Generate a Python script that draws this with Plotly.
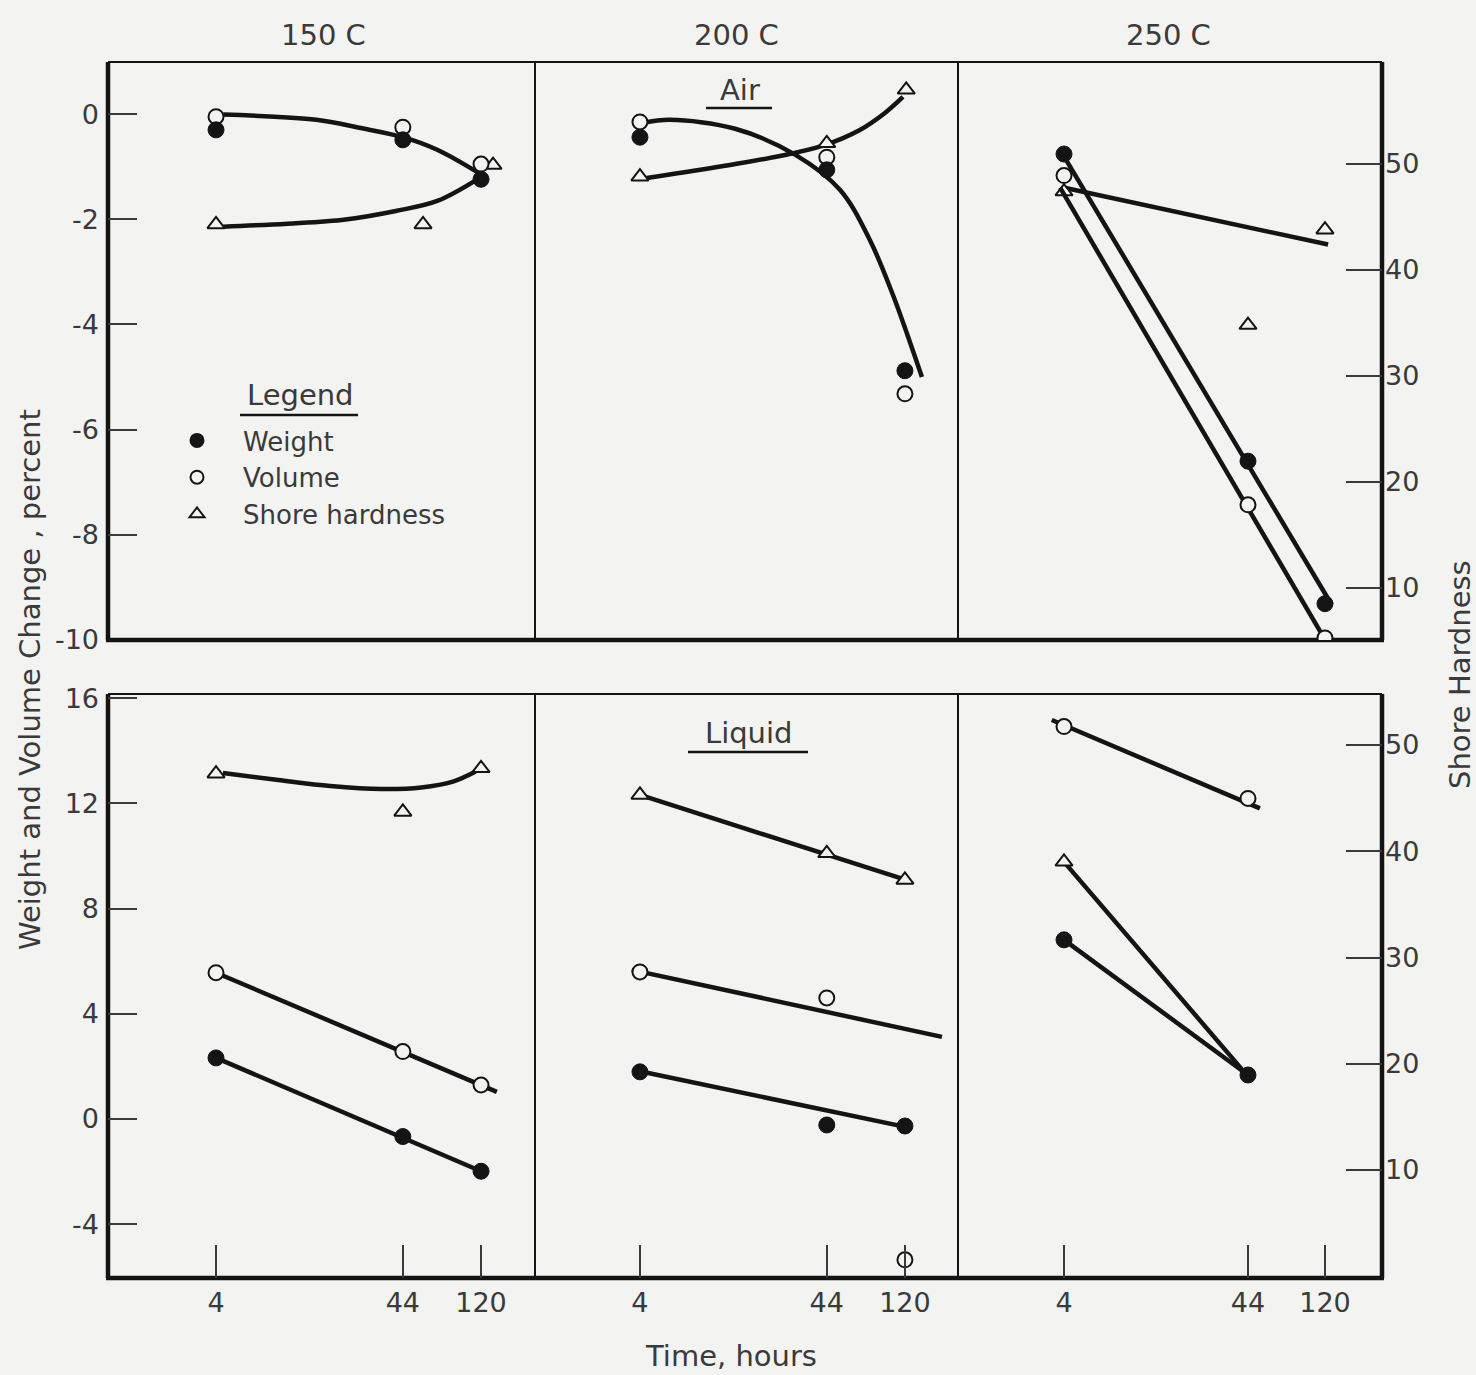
import plotly.graph_objects as go

W, H = 1476, 1375
def px(x): return x / W
def py(y): return 1 - y / H

# ---------------- data ----------------
TIMES = [4, 44, 120]
X_TICKS = [4, 44, 120]
X_TICK_TEXT = ["4", "44", "120"]
TEMPS = ["150 C", "200 C", "250 C"]

PCT_TICKS_AIR = [0, -2, -4, -6, -8, -10]
PCT_TICKS_LIQ = [16, 12, 8, 4, 0, -4]
SHORE_TICKS = [10, 20, 30, 40, 50]

# --- Air, 150 C
air150_weight = [-0.30, -0.49, -1.24]
air150_volume = [-0.05, -0.25, -0.95]
air150_shore_t = [4, 57, 140]
air150_shore = [44.3, 44.3, 49.9]
air150_wv_fit_t = [4.39, 14.5, 25.1, 44.0, 68.4, 115]
air150_wv_fit = [-0.01, -0.11, -0.26, -0.44, -0.68, -1.11]
air150_sh_fit_t = [4.39, 10.0, 21.1, 40.2, 68.4, 115]
air150_sh_fit = [44.08, 44.37, 44.77, 45.57, 46.51, 48.57]

# --- Air, 200 C
air200_weight = [-0.44, -1.06, -4.88]
air200_volume = [-0.15, -0.82, -5.32]
air200_shore_t = [4, 44, 122]
air200_shore = [48.8, 51.95, 57.0]
air200_wv_fit_t = [4.16, 5.88, 13.57, 29.6, 52.1, 76.6, 102.9, 129.6, 149.2]
air200_wv_fit = [-0.17, -0.11, -0.28, -0.78, -1.44, -2.40, -3.44, -4.39, -5.0]
air200_sh_fit_t = [4.37, 12.7, 24.1, 41.4, 67.3, 92.8, 117]
air200_sh_fit = [48.68, 49.91, 50.75, 51.70, 53.21, 54.81, 56.32]

# --- Air, 250 C
air250_weight = [-0.76, -6.6, -9.31]
air250_volume = [-1.17, -7.43, -9.96]
air250_shore = [47.4, 34.8, 43.8]
air250_w_fit_t = [3.8, 131]
air250_w_fit = [-0.68, -9.33]
air250_v_fit_t = [3.8, 118]
air250_v_fit = [-1.4, -9.95]
air250_sh_fit_t = [3.9, 125]
air250_sh_fit = [47.8, 42.4]

# --- Liquid, 150 C
liq150_weight = [2.32, -0.67, -1.99]
liq150_volume = [5.56, 2.56, 1.29]
liq150_shore = [47.3, 43.7, 47.8]
liq150_w_fit_t = [4, 120]
liq150_w_fit = [2.32, -1.99]
liq150_v_fit_t = [4, 147]
liq150_v_fit = [5.56, 1.03]
liq150_sh_fit_t = [4.37, 8.9, 17.3, 33.4, 55.8, 83.6, 112]
liq150_sh_fit = [47.36, 46.71, 46.15, 45.86, 46.0, 46.55, 47.5]

# --- Liquid, 200 C
liq200_weight = [1.79, -0.23, -0.27]
liq200_volume = [5.59, 4.6, -5.36]
liq200_shore = [45.3, 39.8, 37.3]
liq200_w_fit_t = [3.7, 128]
liq200_w_fit = [1.86, -0.34]
liq200_v_fit_t = [3.6, 193]
liq200_v_fit = [5.67, 3.12]
liq200_sh_fit_t = [4, 121.6]
liq200_sh_fit = [45.3, 37.3]

# --- Liquid, 250 C (no 120 h data; 44 h hardness symbol hidden under weight dot)
liq250_t = [4, 44]
liq250_weight = [6.81, 1.67]
liq250_volume = [14.92, 12.19]
liq250_shore_t = [4]
liq250_shore = [39.0]
liq250_w_fit_t = [4, 44]
liq250_w_fit = [6.81, 1.67]
liq250_v_fit_t = [3.41, 51.4]
liq250_v_fit = [15.17, 11.81]
liq250_sh_fit_t = [4, 43]
liq250_sh_fit = [39.0, 19.0]

panels = [
    # row 0 (Air)
    dict(w=(TIMES, air150_weight), v=(TIMES, air150_volume), s=(air150_shore_t, air150_shore),
         wfit=[(air150_wv_fit_t, air150_wv_fit, "spline")],
         sfit=[(air150_sh_fit_t, air150_sh_fit, "spline")]),
    dict(w=(TIMES, air200_weight), v=(TIMES, air200_volume), s=(air200_shore_t, air200_shore),
         wfit=[(air200_wv_fit_t, air200_wv_fit, "spline")],
         sfit=[(air200_sh_fit_t, air200_sh_fit, "spline")]),
    dict(w=(TIMES, air250_weight), v=(TIMES, air250_volume), s=(TIMES, air250_shore),
         wfit=[(air250_w_fit_t, air250_w_fit, "linear"), (air250_v_fit_t, air250_v_fit, "linear")],
         sfit=[(air250_sh_fit_t, air250_sh_fit, "linear")]),
    # row 1 (Liquid)
    dict(w=(TIMES, liq150_weight), v=(TIMES, liq150_volume), s=(TIMES, liq150_shore),
         wfit=[(liq150_w_fit_t, liq150_w_fit, "linear"), (liq150_v_fit_t, liq150_v_fit, "linear")],
         sfit=[(liq150_sh_fit_t, liq150_sh_fit, "spline")]),
    dict(w=(TIMES, liq200_weight), v=(TIMES, liq200_volume), s=(TIMES, liq200_shore),
         wfit=[(liq200_w_fit_t, liq200_w_fit, "linear"), (liq200_v_fit_t, liq200_v_fit, "linear")],
         sfit=[(liq200_sh_fit_t, liq200_sh_fit, "linear")]),
    dict(w=(liq250_t, liq250_weight), v=(liq250_t, liq250_volume), s=(liq250_shore_t, liq250_shore),
         wfit=[(liq250_w_fit_t, liq250_w_fit, "linear"), (liq250_v_fit_t, liq250_v_fit, "linear")],
         sfit=[(liq250_sh_fit_t, liq250_sh_fit, "linear")]),
]

# ---------------- layout geometry ----------------
BG = "#f3f3f1"
INK = "#141414"
TXT = "#3a3a3a"
FONT = "DejaVu Sans"
FS_TICK = 27
FS_TXT = 29
FS_LEG = 26

COLS_PX = [(108, 535), (535, 958), (958, 1382)]
ROWS_PX = [(62, 640), (694, 1278)]
X_RANGES = [[0.0, 2.380], [0.017, 2.375], [0.002, 2.402]]
PCT_RANGES = [[-10, 0.99], [-6.05, 16.16]]
SHORE_RANGES = [[5.09, 59.62], [-0.165, 54.8]]

def hy(v):
    return str(v).replace("\u2212", "-")

fig = go.Figure()
layout = dict(
    width=W, height=H, margin=dict(l=0, r=0, t=0, b=0, autoexpand=False),
    paper_bgcolor=BG, plot_bgcolor="rgba(0,0,0,0)",
    font=dict(family=FONT, size=FS_TICK, color=TXT),
    showlegend=True,
)

MK = 15
for p, pan in enumerate(panels):
    r, c = divmod(p, 3)
    xa = f"x{p+1}"
    ya_sh = f"y{p+1}"      # base axis: shore hardness (right)
    ya_pc = f"y{p+7}"      # overlay axis: percent change (left)
    x0, x1 = COLS_PX[c]
    y0, y1 = ROWS_PX[r]
    pct_ticks = PCT_TICKS_AIR if r == 0 else PCT_TICKS_LIQ
    layout[f"xaxis{p+1}"] = dict(
        domain=[px(x0), px(x1)], anchor=ya_sh, type="log", range=X_RANGES[c],
        tickvals=X_TICKS, ticktext=X_TICK_TEXT, showticklabels=(r == 1),
        ticks="inside" if r == 1 else "", ticklen=33, tickwidth=2, tickcolor=TXT,
        showgrid=False, zeroline=False, showline=False, ticklabelstandoff=6,
        automargin=False, tickfont=dict(size=FS_TICK),
    )
    layout[f"yaxis{p+1}"] = dict(
        domain=[py(y1), py(y0)], anchor=xa, range=SHORE_RANGES[r], side="right",
        tickvals=SHORE_TICKS, showticklabels=(c == 2), automargin=False,
        ticks="inside" if c == 2 else "", ticklen=36, tickwidth=2, tickcolor=TXT,
        showgrid=False, zeroline=False, showline=False, ticklabelstandoff=2,
    )
    layout[f"yaxis{p+7}"] = dict(
        overlaying=ya_sh, anchor=xa, range=PCT_RANGES[r], side="left",
        tickvals=pct_ticks, ticktext=[hy(v) for v in pct_ticks], automargin=False,
        showticklabels=(c == 0), ticks="inside" if c == 0 else "", ticklen=29,
        tickwidth=2, tickcolor=TXT, showgrid=False, zeroline=False, showline=False,
        ticklabelstandoff=8,
    )
    for tt, vv, shape in pan["sfit"]:
        fig.add_trace(go.Scatter(x=tt, y=vv, mode="lines", xaxis=xa, yaxis=ya_sh,
                                 line=dict(color=INK, width=4.5, shape=shape, smoothing=1.0),
                                 showlegend=False, hoverinfo="skip"))
    fig.add_trace(go.Scatter(x=pan["s"][0], y=pan["s"][1], mode="markers", xaxis=xa, yaxis=ya_sh,
                             name="Shore hardness", showlegend=False,
                             marker=dict(symbol="triangle-up", size=MK, color=BG,
                                         line=dict(color=INK, width=2))))
    for tt, vv, shape in pan["wfit"]:
        fig.add_trace(go.Scatter(x=tt, y=vv, mode="lines", xaxis=xa, yaxis=ya_pc,
                                 line=dict(color=INK, width=4.5, shape=shape, smoothing=1.0),
                                 showlegend=False, hoverinfo="skip"))
    fig.add_trace(go.Scatter(x=pan["v"][0], y=pan["v"][1], mode="markers", xaxis=xa, yaxis=ya_pc,
                             name="Volume", showlegend=False,
                             marker=dict(symbol="circle", size=MK, color=BG,
                                         line=dict(color=INK, width=2))))
    fig.add_trace(go.Scatter(x=pan["w"][0], y=pan["w"][1], mode="markers", xaxis=xa, yaxis=ya_pc,
                             name="Weight", showlegend=False,
                             marker=dict(symbol="circle", size=MK + 1, color=INK,
                                         line=dict(color=INK, width=1))))

# legend-only entries
for name, sym, col in [("Weight", "circle", INK), ("Volume", "circle", BG),
                       ("Shore hardness", "triangle-up", BG)]:
    fig.add_trace(go.Scatter(x=[None], y=[None], mode="markers", xaxis="x1", yaxis="y7",
                             name=name, showlegend=True,
                             marker=dict(symbol=sym, size=13, color=col,
                                         line=dict(color=INK, width=2))))

layout["legend"] = dict(x=px(151), y=py(417), xanchor="left", yanchor="top",
                        bgcolor="rgba(0,0,0,0)", font=dict(size=FS_LEG, color=TXT),
                        itemsizing="trace", itemwidth=82, tracegroupgap=0)

# ---------------- frame ----------------
shapes = []
def seg(xa, ya, xb, yb, w):
    shapes.append(dict(type="line", xref="paper", yref="paper",
                       x0=px(xa), y0=py(ya), x1=px(xb), y1=py(yb),
                       line=dict(color=INK, width=w), layer="below"))
for (ytop, ybot) in ROWS_PX:
    seg(108, ytop, 1382, ytop, 2)
    seg(106, ybot, 1384, ybot, 4.5)
    seg(108, ytop, 108, ybot, 4.5)
    seg(1382, ytop, 1382, ybot, 4.5)
    seg(535, ytop, 535, ybot, 2)
    seg(958, ytop, 958, ybot, 2)
# underlines
seg(706, 108, 772, 108, 2.5)
seg(688, 752, 808, 752, 2.5)
seg(240, 415, 358, 415, 2.5)
layout["shapes"] = shapes

# ---------------- text ----------------
ann = []
def text(x, y, s, angle=0, size=FS_TXT):
    ann.append(dict(x=px(x), y=py(y), xref="paper", yref="paper", text=s, showarrow=False,
                    textangle=angle, font=dict(size=size, color=TXT, family=FONT),
                    xanchor="center", yanchor="middle"))
text(323, 35, TEMPS[0])
text(736, 35, TEMPS[1])
text(1168, 35, TEMPS[2])
text(740, 90, "Air")
text(748, 733, "Liquid")
text(300, 395, "Legend")
text(30, 680, "Weight and Volume Change , percent", angle=-90)
text(1460, 675, "Shore Hardness", angle=-90)
text(731, 1356, "Time, hours")
layout["annotations"] = ann

fig.update_layout(**layout)
fig.write_html("out.html")
